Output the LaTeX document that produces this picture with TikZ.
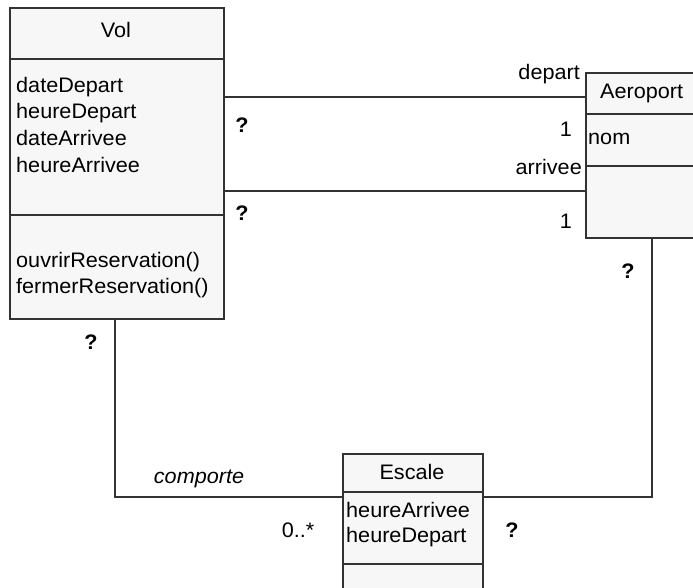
\documentclass[tikz,border=0pt]{standalone}
\usepackage{fontspec}
\setmainfont[FakeStretch=1.03]{Liberation Sans}
\definecolor{boxfill}{HTML}{F7F7F7}
\definecolor{edge}{HTML}{333333}
\tikzset{
  umlbox/.style={draw=edge, fill=boxfill, line width=1.5pt, anchor=north west, inner sep=0pt},
  conn/.style={draw=edge, line width=1.5pt},
  sep/.style={draw=edge, line width=1.5pt},
  txt/.style={font=\fontsize{21}{25}\selectfont, inner sep=0pt, anchor=base west, text=black},
  mult/.style={font=\fontsize{21}{25}\selectfont, inner sep=0pt, anchor=base, text=black},
  qm/.style={font=\fontsize{21}{25}\selectfont\bfseries, inner sep=0pt, anchor=base, text=black}
}
\begin{document}
\begin{tikzpicture}[x=1pt,y=-1pt]
\useasboundingbox (0,0) rectangle (693,587);
% Vol
\node[umlbox, minimum width=214pt, minimum height=311pt] (vol) at (9,7) {};
\draw[sep] (9,59) -- (223,59);
\draw[sep] (9,215) -- (223,215);
\node[txt, anchor=base] (voltitle) at (116,37) {Vol};
\node[txt] (a1) at (16,92) {dateDepart};
\node[txt] (a2) at (16,118) {heureDepart};
\node[txt] (a3) at (16,145) {dateArrivee};
\node[txt] (a4) at (16,172) {heureArrivee};
\node[txt] (o1) at (16,267) {ouvrirReservation()};
\node[txt] (o2) at (16,293) {fermerReservation()};
% Aeroport
\node[umlbox, minimum width=130pt, minimum height=165pt] (aero) at (585,72) {};
\draw[sep] (585,114) -- (700,114);
\draw[sep] (585,166) -- (700,166);
\node[txt] (aerotitle) at (600,98) {Aeroport};
\node[txt] (nom) at (588,144) {nom};
% Escale
\node[umlbox, minimum width=140pt, minimum height=160pt] (esc) at (342,453) {};
\draw[sep] (342,492) -- (482,492);
\draw[sep] (342,564) -- (482,564);
\node[txt, anchor=base] (esctitle) at (412,479) {Escale};
\node[txt] (e1) at (346,517) {heureArrivee};
\node[txt] (e2) at (346,542) {heureDepart};
% connectors
\coordinate (dep) at (0,97);
\coordinate (arr) at (0,191);
\coordinate (low) at (0,497);
\coordinate (volx) at (115,0);
\coordinate (aerox) at (652,0);
\draw[conn] (vol.east |- dep) -- (aero.west |- dep);
\draw[conn] (vol.east |- arr) -- (aero.west |- arr);
\draw[conn] (volx |- vol.south) -- (volx |- low) -- (esc.west |- low);
\draw[conn] (aerox |- aero.south) -- (aerox |- low) -- (esc.east |- low);
% labels
\node[txt, anchor=base east] (ldep) at (580,79) {depart};
\node[txt, anchor=base east] (larr) at (582,174) {arrivee};
\node[mult] (m1) at (566,136) {1};
\node[mult] (m2) at (566,228) {1};
\node[qm] (q1) at (242,132) {?};
\node[qm] (q2) at (242,220) {?};
\node[qm] (q3) at (628,278) {?};
\node[qm] (q4) at (91,349) {?};
\node[qm] (q5) at (512,537) {?};
\node[mult] (m3) at (298,537) {0..*};
\node[txt, anchor=base, font=\fontsize{21}{25}\selectfont\itshape] (comp) at (199,483) {comporte};
\end{tikzpicture}
\end{document}
